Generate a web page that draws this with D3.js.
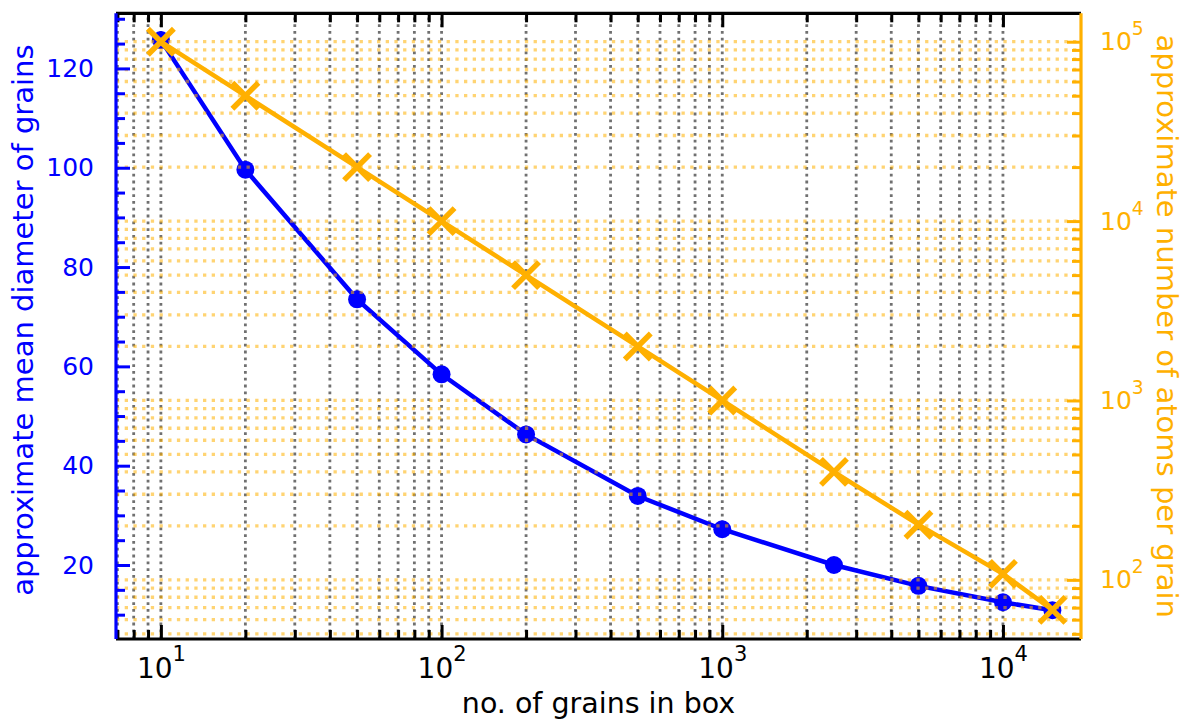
<!DOCTYPE html>
<html>
<head>
<meta charset="utf-8">
<script src="https://cdn.jsdelivr.net/npm/d3@7"></script>
<style>
  body { margin: 0; background: #fff; }
  svg, svg text { font-family: "DejaVu Sans", sans-serif; }
</style>
</head>
<body>
<div id="chart"></div>
<script>
// grains in box vs. mean diameter / atoms per grain
var grains = [10, 20, 50, 100, 200, 500, 1000, 2500, 5000, 10000, 15000];
var diameter = [125.7, 99.6, 73.5, 58.4, 46.3, 33.9, 27.2, 20.0, 15.8, 12.5, 10.9];
var atoms = [100000, 50000, 20000, 10000, 5000, 2000, 1000, 400, 203, 108, 68];

var xMajor = [10, 100, 1000, 10000];
var leftMajor = [20, 40, 60, 80, 100, 120];
var rightMajor = [100, 1000, 10000, 100000];

var width = 1184, height = 721;
// plot box (note: "top" is taken by window.top)
var pLeft = 116, pRight = 1081, pTop = 13.3, pBottom = 639;
var blue = "#0000ff", orange = "#ffb000";

var svg = d3.select("#chart").append("svg")
  .attr("width", width)
  .attr("height", height);

var x = d3.scaleLog().domain([6.92, 18970]).range([pLeft, pRight]);
var yL = d3.scaleLinear().domain([5.1, 131.1]).range([pBottom, pTop]);
var yR = d3.scaleLog().domain([46.8, 144000]).range([pBottom, pTop]);

// minor ticks for log scales
function logMinor(scale) {
  var d = scale.domain(), out = [];
  for (var e = Math.floor(Math.log10(d[0])); e <= Math.ceil(Math.log10(d[1])); e++) {
    for (var m = 2; m <= 9; m++) {
      var v = m * Math.pow(10, e);
      if (v >= d[0] && v <= d[1]) out.push(v);
    }
  }
  return out;
}
var xMinor = logMinor(x);
var rightMinor = logMinor(yR);
var leftMinor = d3.range(10, 131, 5).filter(function(v) { return leftMajor.indexOf(v) < 0; });

// grey x grid (major + minor)
svg.append("g").selectAll("line")
  .data(xMajor.concat(xMinor)).enter().append("line")
  .attr("x1", function(d) { return x(d); })
  .attr("x2", function(d) { return x(d); })
  .attr("y1", pBottom).attr("y2", pTop)
  .attr("stroke", "#707070")
  .attr("stroke-width", 2.8)
  .attr("stroke-dasharray", "2.8,4");

// blue series
var lineL = d3.line()
  .x(function(d, i) { return x(grains[i]); })
  .y(function(d) { return yL(d); });
svg.append("path").datum(diameter)
  .attr("d", lineL)
  .attr("fill", "none")
  .attr("stroke", blue)
  .attr("stroke-width", 4.5);
svg.append("g").selectAll("circle")
  .data(diameter).enter().append("circle")
  .attr("cx", function(d, i) { return x(grains[i]); })
  .attr("cy", function(d) { return yL(d); })
  .attr("r", 9)
  .attr("fill", blue);

// orange grid on the twin axis
svg.append("g").selectAll("line")
  .data(rightMajor.concat(rightMinor)).enter().append("line")
  .attr("x1", pLeft).attr("x2", pRight)
  .attr("y1", function(d) { return yR(d); })
  .attr("y2", function(d) { return yR(d); })
  .attr("stroke", orange)
  .attr("stroke-opacity", 0.55)
  .attr("stroke-width", 3.3)
  .attr("stroke-dasharray", "3.3,5.4");

// orange series
var lineR = d3.line()
  .x(function(d, i) { return x(grains[i]); })
  .y(function(d) { return yR(d); });
svg.append("path").datum(atoms)
  .attr("d", lineR)
  .attr("fill", "none")
  .attr("stroke", orange)
  .attr("stroke-width", 4.5);
svg.append("g").selectAll("path")
  .data(atoms).enter().append("path")
  .attr("transform", function(d, i) { return "translate(" + x(grains[i]) + "," + yR(d) + ")"; })
  .attr("d", "M-13,-13L13,13M-13,13L13,-13")
  .attr("stroke", orange)
  .attr("stroke-width", 5.5)
  .attr("fill", "none");

// superscript labels like 10^3
function powLabel(sel, size, shift) {
  sel.each(function(d) {
    var t = d3.select(this).text(null);
    t.append("tspan").text("10");
    t.append("tspan")
      .attr("dy", -shift)
      .style("font-size", (size * 0.75) + "px")
      .text(Math.round(Math.log10(d)));
  });
}

// bottom axis
var gx = svg.append("g").attr("transform", "translate(0," + pBottom + ")")
  .call(d3.axisBottom(x).tickValues(xMajor).tickSizeInner(-14).tickSizeOuter(0).tickPadding(19));
gx.selectAll(".tick text").style("font-size", "28px").attr("fill", "#000");
powLabel(gx.selectAll(".tick text"), 28, 17);
svg.append("g").attr("transform", "translate(0," + pBottom + ")")
  .call(d3.axisBottom(x).tickValues(xMinor).tickSizeInner(-9).tickSizeOuter(0).tickFormat(""));

// top axis (ticks only)
svg.append("g").attr("transform", "translate(0," + pTop + ")")
  .call(d3.axisTop(x).tickValues(xMajor).tickSizeInner(-14).tickSizeOuter(0).tickFormat(""));
svg.append("g").attr("transform", "translate(0," + pTop + ")")
  .call(d3.axisTop(x).tickValues(xMinor).tickSizeInner(-9).tickSizeOuter(0).tickFormat(""));

// left axis
var gl = svg.append("g").attr("transform", "translate(" + pLeft + ",0)")
  .call(d3.axisLeft(yL).tickValues(leftMajor).tickSizeInner(-14).tickSizeOuter(0).tickPadding(22));
gl.selectAll(".tick text").style("font-size", "25px").attr("fill", blue);
gl.selectAll(".tick line").attr("stroke", blue);
var glm = svg.append("g").attr("transform", "translate(" + pLeft + ",0)")
  .call(d3.axisLeft(yL).tickValues(leftMinor).tickSizeInner(-9).tickSizeOuter(0).tickFormat(""));
glm.selectAll(".tick line").attr("stroke", blue);

// right axis
var gr = svg.append("g").attr("transform", "translate(" + pRight + ",0)")
  .call(d3.axisRight(yR).tickValues(rightMajor).tickSizeInner(-14).tickSizeOuter(0).tickPadding(19));
gr.selectAll(".tick text").style("font-size", "25px").attr("fill", orange);
gr.selectAll(".tick line").attr("stroke", orange);
powLabel(gr.selectAll(".tick text"), 25, 15);
var grm = svg.append("g").attr("transform", "translate(" + pRight + ",0)")
  .call(d3.axisRight(yR).tickValues(rightMinor).tickSizeInner(-9).tickSizeOuter(0).tickFormat(""));
grm.selectAll(".tick line").attr("stroke", orange);

svg.selectAll(".domain").remove();
svg.selectAll(".tick line").attr("stroke-width", 3);

// spines
svg.append("line").attr("x1", pLeft).attr("x2", pRight).attr("y1", pTop).attr("y2", pTop)
  .attr("stroke", "#000").attr("stroke-width", 3.2);
svg.append("line").attr("x1", pLeft).attr("x2", pRight).attr("y1", pBottom).attr("y2", pBottom)
  .attr("stroke", "#000").attr("stroke-width", 3.2);
svg.append("line").attr("x1", pLeft).attr("x2", pLeft).attr("y1", pTop).attr("y2", pBottom)
  .attr("stroke", blue).attr("stroke-width", 3.2);
svg.append("line").attr("x1", pRight).attr("x2", pRight).attr("y1", pTop).attr("y2", pBottom)
  .attr("stroke", orange).attr("stroke-width", 3.2);

// axis titles
svg.append("text")
  .attr("x", (pLeft + pRight) / 2).attr("y", 713)
  .attr("text-anchor", "middle")
  .style("font-size", "28.5px")
  .text("no. of grains in box");
svg.append("text")
  .attr("transform", "translate(33," + ((pTop + pBottom) / 2 - 6) + ")rotate(-90)")
  .attr("text-anchor", "middle")
  .style("font-size", "29px")
  .attr("fill", blue)
  .text("approximate mean diameter of grains");
svg.append("text")
  .attr("transform", "translate(1157," + ((pTop + pBottom) / 2) + ")rotate(90)")
  .attr("text-anchor", "middle")
  .style("font-size", "29px")
  .attr("fill", orange)
  .text("approximate number of atoms per grain");
</script>
</body>
</html>
